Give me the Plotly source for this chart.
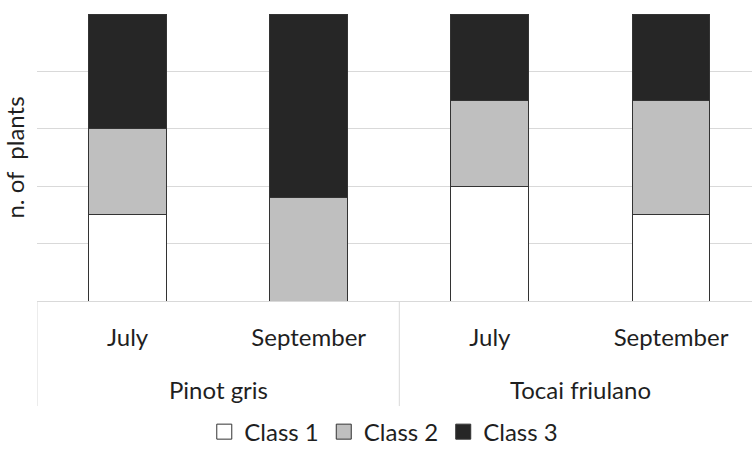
import plotly.graph_objects as go

# Share of plants per damage class, by variety and sampling month (%)
varieties = ["Pinot gris", "Pinot gris", "Tocai friulano", "Tocai friulano"]
months = ["July", "September", "July", "September"]
class1 = [30, 0, 40, 30]
class2 = [30, 36, 30, 40]
class3 = [40, 64, 30, 30]

series = [
    ("Class 1", class1, "#ffffff"),
    ("Class 2", class2, "#bfbfbf"),
    ("Class 3", class3, "#262626"),
]

font_family = "Lato, 'Open Sans', sans-serif"
text_color = "#1f1f1f"
grid_color = "#d9d9d9"
edge_color = "#333333"
font_size = 24

# one category slot per variety/month pair
keys = [f"{v} | {m}" for v, m in zip(varieties, months)]

fig = go.Figure()
for name, values, color in series:
    fig.add_trace(go.Bar(
        x=keys,
        y=values,
        name=name,
        showlegend=False,
        marker=dict(color=color, line=dict(color=edge_color, width=1)),
    ))
    # legend entry with a larger square swatch
    fig.add_trace(go.Scatter(
        x=[None], y=[None],
        mode="markers",
        name=name,
        marker=dict(symbol="square", size=15, color=color,
                    line=dict(color=edge_color, width=1)),
    ))

# group labels centred under each variety, and separators between groups
groups = []
for i, v in enumerate(varieties):
    if not groups or groups[-1][0] != v:
        groups.append([v, i, i])
    else:
        groups[-1][2] = i

annotations = []
shapes = []
for v, first, last in groups:
    annotations.append(dict(
        x=(first + last) / 2, xref="x",
        y=-0.31, yref="paper",
        text=v, showarrow=False,
        xanchor="center", yanchor="middle",
        font=dict(family=font_family, size=font_size, color=text_color),
    ))
    shapes.append(dict(
        type="line", xref="x", yref="paper",
        x0=first - 0.5, x1=first - 0.5, y0=0, y1=-0.366,
        line=dict(color=grid_color, width=1),
    ))

fig.update_layout(
    width=752,
    height=450,
    barmode="stack",
    bargap=0.57,
    plot_bgcolor="white",
    paper_bgcolor="white",
    margin=dict(l=37, r=0, t=14, b=149, autoexpand=False),
    font=dict(family=font_family, size=font_size, color=text_color),
    showlegend=True,
    legend=dict(
        orientation="h",
        x=0.485, xanchor="center",
        y=-0.535, yanchor="bottom",
        font=dict(size=font_size),
        itemwidth=30,
        traceorder="normal",
    ),
    annotations=annotations,
    shapes=shapes,
)

fig.update_xaxes(
    type="category",
    range=[-0.5, 3.447],
    tickvals=keys,
    ticktext=months,
    showline=True,
    linecolor=grid_color,
    linewidth=1,
    ticks="outside",
    ticklen=15,
    tickcolor="rgba(0,0,0,0)",
    tickfont=dict(size=font_size, color=text_color),
    automargin=False,
)

fig.update_yaxes(
    range=[0, 100],
    dtick=20,
    showticklabels=False,
    showgrid=True,
    gridcolor=grid_color,
    gridwidth=1,
    zeroline=False,
    automargin=False,
    title=dict(text="n. of  plants", font=dict(size=font_size, color=text_color), standoff=4),
)

fig.write_html("out.html")
